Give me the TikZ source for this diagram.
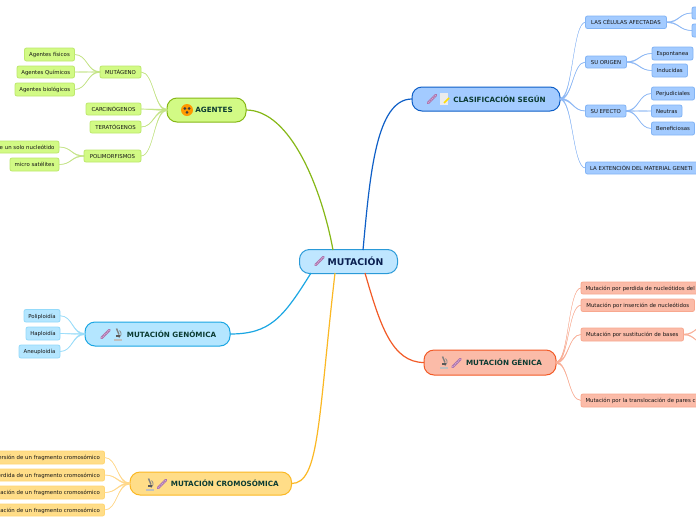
\documentclass[tikz,border=0pt]{standalone}
\usepackage{fontspec}
\setmainfont{DejaVu Sans}
\usetikzlibrary{calc}
\definecolor{gF}{HTML}{D2FA85}\definecolor{gD}{HTML}{BDE86C}\definecolor{gM}{HTML}{86B817}\definecolor{gL}{HTML}{C4E486}
\definecolor{bF}{HTML}{A3CBFF}\definecolor{bD}{HTML}{82B4F5}\definecolor{bM}{HTML}{0E5FC7}\definecolor{bL}{HTML}{8DB8F5}
\definecolor{rF}{HTML}{FBBBA8}\definecolor{rD}{HTML}{F8A88F}\definecolor{rM}{HTML}{F25A26}\definecolor{rL}{HTML}{F9AE96}
\definecolor{yF}{HTML}{FFDD88}\definecolor{yD}{HTML}{FFD673}\definecolor{yM}{HTML}{FBB823}\definecolor{yL}{HTML}{FFD88A}
\definecolor{cF}{HTML}{B4E6FF}\definecolor{cD}{HTML}{94DAFA}\definecolor{cM}{HTML}{1AA6E3}\definecolor{cL}{HTML}{9ADDFA}
\definecolor{rootF}{HTML}{BFE6FF}\definecolor{rootD}{HTML}{2A9AD8}
\definecolor{titleC}{HTML}{0B3B32}\definecolor{rootC}{HTML}{0A1F50}\definecolor{leafC}{HTML}{151515}
\tikzset{
  boxbase/.style={rounded corners=2pt,inner sep=0pt,outer sep=0pt,text height=5.4pt,text depth=.8pt},
  leafbox/.style={boxbase,font=\fontsize{5.4}{6}\selectfont,text=leafC,line width=.8pt},
  mainbox/.style={rounded corners=10pt,inner sep=0pt,outer sep=0pt,line width=1pt,font=\fontsize{7.2}{8}\selectfont\bfseries,text=titleC},
  pics/dnaicon/.style={code={
    \draw[line width=2.6pt,color=black!20!violet!55!white,line cap=round] (-4,4)--(4,-4);
    \draw[line width=1.2pt,color=violet!35!white,dash pattern=on 1pt off 1pt] (-4,4)--(4,-4);}},
  pics/microicon/.style={code={
    \draw[line width=1.4pt,color=black!50] (-1.5,-5.5)--(1,0.5);
    \draw[line width=.8pt,color=black!45] (1.5,-3.5) arc[start angle=-50,end angle=60,radius=4.5];
    \fill[color=black!25] (-4,4.5) rectangle (4,6.5);
    \fill[color=black!65] (-2,1) rectangle (2,3);}},
  pics/docicon/.style={code={
    \fill[color=black!8] (-4.5,-6) rectangle (3.5,5.5);
    \draw[line width=1.6pt,color=yellow!80!orange] (0,4)--(5,-1);}},
  pics/hazardicon/.style={code={
    \fill[color=orange!80!yellow] (0,0) circle[radius=6];
    \fill[color=black!75] (-2.2,-1.5) circle[radius=1.5] (2.2,-1.5) circle[radius=1.5] (0,2.4) circle[radius=1.5];}}
}
\newcommand{\leafC}[8]{\node[leafbox,fill=#1,draw=#2,minimum width=#6pt-#4pt,minimum height=#7pt-#5pt] (#3) at ({(#4+#6)/2},{(#5+#7)/2}) {#8};}
\newcommand{\leafLeft}[8]{\node[leafbox,fill=#1,draw=#2,minimum width=#6pt-#4pt,minimum height=#7pt-#5pt,text width=#6pt-#4pt-9pt,align=left] (#3) at ({(#4+#6)/2},{(#5+#7)/2}) {\makebox[\linewidth][l]{#8}};}
\newcommand{\leafRight}[8]{\node[leafbox,fill=#1,draw=#2,minimum width=#6pt-#4pt,minimum height=#7pt-#5pt,text width=#6pt-#4pt-9pt,align=left] (#3) at ({(#4+#6)/2},{(#5+#7)/2}) {\makebox[\linewidth][r]{#8}};}
\newcommand{\mainN}[9]{\node[mainbox,fill=#1,draw=#2,minimum width=#6pt-#4pt,minimum height=#7pt-#5pt] (#3) at ({(#4+#6)/2},{(#5+#7)/2}) {\hspace{#8pt}#9};}
\newcommand{\lnk}[5]{\draw[color=#1,fill=#1,line width=.2pt]
  ($(#2)+(0,-#5)$) .. controls +(#4,0) and ($(#3)+(-#4,-.2)$) .. ($(#3)+(0,-.2)$) -- ($(#3)+(0,.2)$)
  .. controls ($(#3)+(-#4,.2)$) and ($(#2)+(#4,#5)$) .. ($(#2)+(0,#5)$) -- cycle;}
\begin{document}
\begin{tikzpicture}[x=1pt,y=-1pt]
\useasboundingbox (0,0) rectangle (696,520);
\fill[white] (0,0) rectangle (696,520);
\clip (0,0) rectangle (696,520);
\node[mainbox,fill=rootF,draw=rootD,minimum width=98pt,minimum height=24pt,font=\fontsize{9.3}{10}\selectfont\bfseries,text=rootC] (root) at (348.5,261.5) {\hspace{14pt}MUTACIÓN};
\mainN{gF}{gM}{agentes}{167}{98}{246}{122}{15}{AGENTES}
\mainN{bF}{bM}{clasif}{412}{87}{560}{111}{27}{CLASIFICACIÓN SEGÚN}
\mainN{rF}{rM}{genica}{424}{350}{556}{375}{28}{MUTACIÓN GÉNICA}
\mainN{cF}{cM}{genomica}{85}{322}{230}{346}{28}{MUTACIÓN GENÓMICA}
\mainN{yF}{yM}{cromo}{130}{472}{291.5}{495}{28}{MUTACIÓN CROMOSÓMICA}
\coordinate (rootA) at (333,250);
\coordinate (rootB) at (363,250);
\coordinate (rootR) at (365,273);
\coordinate (rootG) at (311,273);
\coordinate (rootY) at (335,273);
\draw[color=gM,line width=1.2pt] (agentes.east) .. controls +(45,0) and (322,190) .. (rootA);
\draw[color=bM,line width=1.2pt] (clasif.west) .. controls +(-36,0) and (370,175) .. (rootB);
\draw[color=rM,line width=1.2pt] (genica.west) .. controls +(-32,0) and (380,325) .. (rootR);
\draw[color=cM,line width=1.2pt] (genomica.east) .. controls +(40,0) and (283,318) .. (rootG);
\draw[color=yM,line width=1.2pt] (cromo.east) .. controls +(28,0) and (318,420) .. (rootY);
\leafC{gF}{gD}{fis}{24.5}{48}{74.5}{61}{Agentes físicos}
\leafC{gF}{gD}{qui}{17}{66}{74.5}{78}{Agentes Químicos}
\leafC{gF}{gD}{bio}{15}{83}{74.5}{96}{Agentes biológicos}
\leafC{gF}{gD}{muta}{100}{66}{141}{78}{MUTÁGENO}
\leafC{gF}{gD}{carc}{86}{103}{141}{115}{CARCINÓGENOS}
\leafC{gF}{gD}{tera}{90}{121}{141}{133}{TERATÓGENOS}
\leafC{gF}{gD}{poli}{84}{150}{141}{162}{POLIMORFISMOS}
\leafRight{gF}{gD}{nucl}{-40}{141}{59}{153}{de un solo nucleótido}
\leafC{gF}{gD}{sat}{10}{158}{59}{171}{micro satélites}
\lnk{gL}{agentes.west}{muta.east}{-13}{.8}
\lnk{gL}{agentes.west}{carc.east}{-13}{.8}
\lnk{gL}{agentes.west}{tera.east}{-13}{.8}
\lnk{gL}{agentes.west}{poli.east}{-13}{.8}
\lnk{gL}{muta.west}{fis.east}{-13}{.5}
\lnk{gL}{muta.west}{qui.east}{-13}{.5}
\lnk{gL}{muta.west}{bio.east}{-13}{.5}
\lnk{gL}{poli.west}{nucl.east}{-13}{.5}
\lnk{gL}{poli.west}{sat.east}{-13}{.5}
\leafC{bF}{bD}{cel}{585.5}{16}{666.5}{28.5}{LAS CÉLULAS AFECTADAS}
\leafC{bF}{bD}{tipa}{692}{7}{712}{19}{}
\leafC{bF}{bD}{tipb}{692}{24}{712}{37}{}
\leafC{bF}{bD}{orig}{585.5}{56}{626.5}{68}{SU ORIGEN}
\leafC{bF}{bD}{espo}{652}{47}{693}{60}{Espontanea}
\leafC{bF}{bD}{indu}{652}{64}{687.5}{77}{Inducidas}
\leafC{bF}{bD}{efec}{585.5}{105}{626}{117}{SU EFECTO}
\leafC{bF}{bD}{perj}{651.5}{87}{694.5}{100}{Perjudiciales}
\leafC{bF}{bD}{neut}{651.5}{105}{682}{117}{Neutras}
\leafC{bF}{bD}{bene}{651.5}{122}{694.5}{135}{Beneficiosas}
\leafLeft{bF}{bD}{exte}{585.5}{162}{720}{174}{LA EXTENCIÓN DEL MATERIAL GENETI}
\lnk{bL}{clasif.east}{cel.west}{13}{.8}
\lnk{bL}{clasif.east}{orig.west}{13}{.8}
\lnk{bL}{clasif.east}{efec.west}{13}{.8}
\lnk{bL}{clasif.east}{exte.west}{13}{.8}
\lnk{bL}{cel.east}{tipa.west}{13}{.5}
\lnk{bL}{cel.east}{tipb.west}{13}{.5}
\lnk{bL}{orig.east}{espo.west}{13}{.5}
\lnk{bL}{orig.east}{indu.west}{13}{.5}
\lnk{bL}{efec.east}{perj.west}{13}{.5}
\lnk{bL}{efec.east}{neut.west}{13}{.5}
\lnk{bL}{efec.east}{bene.west}{13}{.5}
\leafLeft{rF}{rD}{perd}{581}{282}{730}{294}{Mutación por perdida de nucleótidos del}
\leafC{rF}{rD}{inse}{581}{299}{694.5}{311.5}{Mutación por inserción de nucleótidos}
\leafC{rF}{rD}{sust}{581}{328}{683.5}{341}{Mutación por sustitución de bases}
\leafLeft{rF}{rD}{tran}{581}{394}{730}{407}{Mutación por la translocación de pares c}
\coordinate (sustA) at (708,325);
\coordinate (sustB) at (708,345);
\lnk{rL}{genica.east}{perd.west}{13}{.8}
\lnk{rL}{genica.east}{inse.west}{13}{.8}
\lnk{rL}{genica.east}{sust.west}{13}{.8}
\lnk{rL}{genica.east}{tran.west}{13}{.8}
\lnk{rL}{sust.east}{sustA}{12}{.5}
\lnk{rL}{sust.east}{sustB}{12}{.5}
\leafC{cF}{cD}{poly}{24}{309.5}{60}{322}{Poliploidía}
\leafC{cF}{cD}{hapl}{26}{327}{60}{340}{Haploidía}
\leafC{cF}{cD}{aneu}{19}{345}{60}{358}{Aneuploidía}
\lnk{cL}{genomica.west}{poly.east}{-13}{.7}
\lnk{cL}{genomica.west}{hapl.east}{-13}{.7}
\lnk{cL}{genomica.west}{aneu.east}{-13}{.7}
\leafRight{yF}{yD}{cra}{-40}{451}{104.5}{464}{ersión de un fragmento cromosómico}
\leafRight{yF}{yD}{crb}{-40}{469}{104.5}{481}{érdida de un fragmento cromosómico}
\leafRight{yF}{yD}{crc}{-40}{486}{104.5}{499}{cación de un fragmento cromosómico}
\leafRight{yF}{yD}{crd}{-40}{504}{104.5}{516}{ación de un fragmento cromosómico}
\lnk{yL}{cromo.west}{cra.east}{-13}{.7}
\lnk{yL}{cromo.west}{crb.east}{-13}{.7}
\lnk{yL}{cromo.west}{crc.east}{-13}{.7}
\lnk{yL}{cromo.west}{crd.east}{-13}{.7}
\pic at (319.5,261) {dnaicon};
\pic at (187,110) {hazardicon};
\pic at (432,99) {dnaicon};
\pic at (444,99) {docicon};
\pic at (444,362) {microicon};
\pic at (456.5,363) {dnaicon};
\pic at (105.5,334) {dnaicon};
\pic at (118,334) {microicon};
\pic at (150,484) {microicon};
\pic at (162,484) {dnaicon};
\end{tikzpicture}
\end{document}
